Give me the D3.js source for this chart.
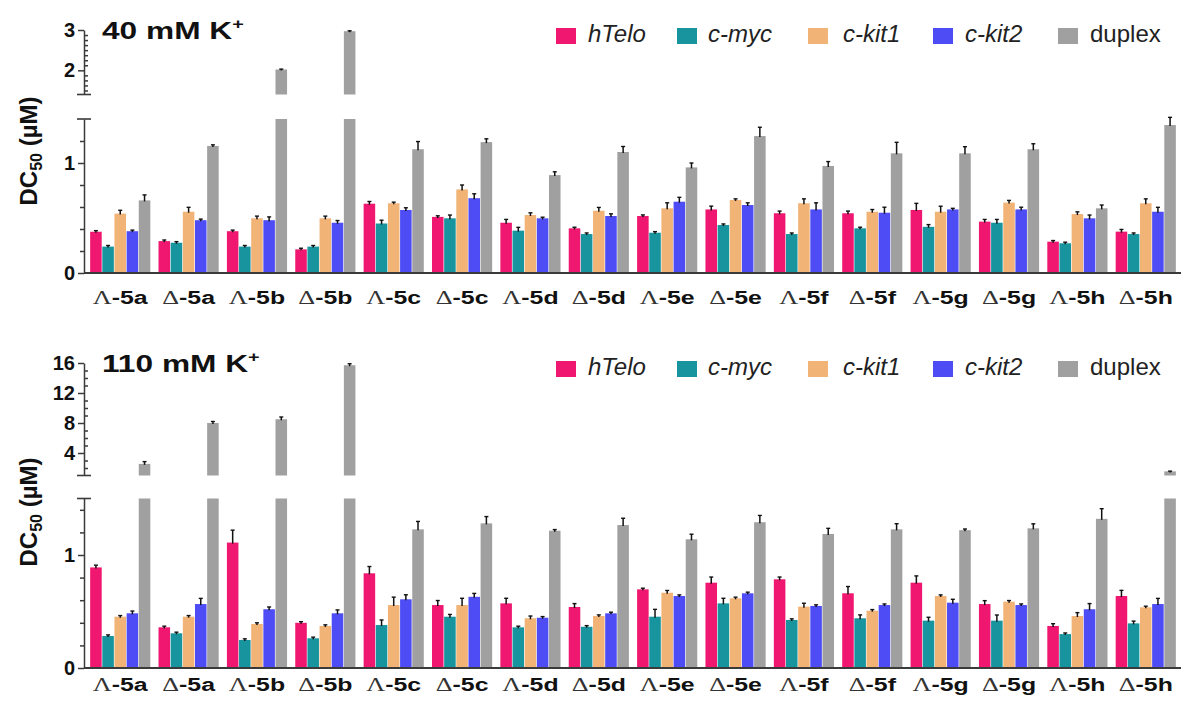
<!DOCTYPE html>
<html>
<head>
<meta charset="utf-8">
<script src="https://cdn.jsdelivr.net/npm/d3@7"></script>
<style>
  body { margin: 0; background: #fff; }
  svg { display: block; font-family: Arial, 'Liberation Sans', sans-serif; }
</style>
</head>
<body>
<svg id="chart" width="1181" height="704"></svg>
<script>
/* Data */
const labels = ['Λ-5a', 'Δ-5a', 'Λ-5b', 'Δ-5b', 'Λ-5c', 'Δ-5c', 'Λ-5d', 'Δ-5d',
  'Λ-5e', 'Δ-5e', 'Λ-5f', 'Δ-5f', 'Λ-5g', 'Δ-5g', 'Λ-5h', 'Δ-5h']
const seriesNames = ['hTelo', 'c-myc', 'c-kit1', 'c-kit2', 'duplex']
const colors = ['#EF1770', '#17949E', '#F2B377', '#4E4CF4', '#A0A0A0']

// 40 mM K+
const hTelo40 = [0.375, 0.29, 0.38, 0.215, 0.63, 0.51, 0.457, 0.406, 0.518, 0.578, 0.543, 0.543, 0.573, 0.467, 0.285, 0.376]
const cmyc40 = [0.24, 0.275, 0.24, 0.24, 0.45, 0.497, 0.385, 0.354, 0.366, 0.436, 0.354, 0.406, 0.42, 0.457, 0.27, 0.354]
const ckit1_40 = [0.54, 0.557, 0.497, 0.497, 0.634, 0.76, 0.527, 0.566, 0.588, 0.664, 0.634, 0.557, 0.557, 0.64, 0.536, 0.634]
const ckit2_40 = [0.38, 0.48, 0.48, 0.457, 0.573, 0.68, 0.497, 0.518, 0.648, 0.618, 0.578, 0.548, 0.578, 0.578, 0.497, 0.557]
const duplex40 = [0.66, 1.155, 2.02, 2.97, 1.125, 1.19, 0.89, 1.1, 0.96, 1.245, 0.973, 1.088, 1.088, 1.125, 0.588, 1.345]
const hTelo40err = [0.01, 0.01, 0.01, 0.01, 0.02, 0.01, 0.03, 0.01, 0.01, 0.03, 0.02, 0.02, 0.06, 0.02, 0.01, 0.02]
const cmyc40err = [0.01, 0.01, 0.01, 0.01, 0.03, 0.03, 0.03, 0.01, 0.01, 0.01, 0.01, 0.01, 0.02, 0.03, 0.01, 0.01]
const ckit1_40err = [0.03, 0.04, 0.02, 0.02, 0.01, 0.04, 0.02, 0.03, 0.05, 0.01, 0.04, 0.02, 0.05, 0.02, 0.02, 0.04]
const ckit2_40err = [0.01, 0.01, 0.03, 0.02, 0.02, 0.04, 0.01, 0.02, 0.04, 0.02, 0.06, 0.05, 0.01, 0.02, 0.03, 0.04]
const duplex40err = [0.05, 0.01, 0.01, 0.01, 0.07, 0.03, 0.03, 0.05, 0.04, 0.08, 0.04, 0.1, 0.06, 0.05, 0.03, 0.07]

// 110 mM K+
const hTelo110 = [0.89, 0.36, 1.11, 0.4, 0.838, 0.557, 0.572, 0.54, 0.696, 0.755, 0.785, 0.661, 0.755, 0.566, 0.372, 0.637]
const cmyc110 = [0.283, 0.307, 0.248, 0.263, 0.38, 0.454, 0.36, 0.365, 0.454, 0.572, 0.425, 0.44, 0.419, 0.419, 0.3, 0.395]
const ckit1_110 = [0.454, 0.454, 0.39, 0.372, 0.557, 0.557, 0.44, 0.46, 0.666, 0.617, 0.543, 0.507, 0.637, 0.587, 0.46, 0.537]
const ckit2_110 = [0.484, 0.566, 0.52, 0.484, 0.608, 0.63, 0.445, 0.484, 0.637, 0.661, 0.549, 0.557, 0.578, 0.557, 0.52, 0.566]
const duplex110 = [2.55, 8.0, 8.5, 15.7, 1.227, 1.28, 1.215, 1.265, 1.139, 1.29, 1.186, 1.227, 1.22, 1.236, 1.32, 1.55]
const hTelo110err = [0.02, 0.01, 0.11, 0.01, 0.06, 0.04, 0.045, 0.03, 0.01, 0.05, 0.02, 0.06, 0.06, 0.03, 0.02, 0.05]
const cmyc110err = [0.01, 0.01, 0.01, 0.01, 0.045, 0.02, 0.01, 0.01, 0.065, 0.045, 0.01, 0.03, 0.03, 0.05, 0.01, 0.02]
const ckit1_110err = [0.01, 0.01, 0.01, 0.01, 0.07, 0.06, 0.02, 0.01, 0.02, 0.01, 0.03, 0.01, 0.01, 0.01, 0.03, 0.01]
const ckit2_110err = [0.02, 0.05, 0.02, 0.03, 0.04, 0.03, 0.01, 0.01, 0.01, 0.01, 0.01, 0.01, 0.03, 0.01, 0.05, 0.05]
const duplex110err = [0.3, 0.2, 0.3, 0.2, 0.07, 0.06, 0.01, 0.06, 0.045, 0.06, 0.05, 0.05, 0.01, 0.04, 0.09, 0.03]

// axis ticks
const lowMajor = [0, 1]
const lowMinor40 = [0.2, 0.4, 0.6, 0.8, 1.2]
const highMajor40 = [2, 3]
const highMinor40 = [1.5, 1.625, 1.75, 1.875, 2.125, 2.25, 2.375, 2.5, 2.625, 2.75, 2.875]
const lowMinor110 = [0.2, 0.4, 0.6, 0.8, 1.2, 1.4]
const highMajor110 = [4, 8, 12, 16]
const highMinor110 = [2, 3, 5, 6, 7, 9, 10, 11, 13, 14, 15]

const svg = d3.select('#chart')
const axisX = 84
const axisColor = '#3a3a3a'

/* Shared x scales */
const x0 = d3.scaleBand().domain(labels).range([84, 1182]).paddingInner(0.12).paddingOuter(0.09)
const x1 = d3.scaleBand().domain(seriesNames).range([0, x0.bandwidth()]).paddingInner(0.05)
const color = d3.scaleOrdinal().domain(seriesNames).range(colors)

function drawPanel(cfg) {
  const g = svg.append('g')
  const yLow = d3.scaleLinear().domain(cfg.lowDomain).range(cfg.lowRange)
  const yHigh = d3.scaleLinear().domain(cfg.highDomain).range(cfg.highRange)
  const lowMax = cfg.lowDomain[1]
  const highMin = cfg.highDomain[0]

  /* Bars */
  cfg.values.forEach((vals, s) => {
    const name = seriesNames[s]
    vals.forEach((v, i) => {
      const bx = x0(labels[i]) + x1(name)
      const bw = x1.bandwidth()
      g.append('rect')
        .attr('x', bx).attr('width', bw)
        .attr('y', yLow(Math.min(v, lowMax)))
        .attr('height', yLow(0) - yLow(Math.min(v, lowMax)))
        .attr('fill', color(name))
      if (v > highMin && v > lowMax) {
        g.append('rect')
          .attr('x', bx).attr('width', bw)
          .attr('y', yHigh(v))
          .attr('height', yHigh(highMin) - yHigh(v))
          .attr('fill', color(name))
      }
      /* error bars */
      const e = cfg.errors[s][i]
      const y = v > lowMax ? yHigh : yLow
      const cx = bx + bw / 2
      g.append('line')
        .attr('x1', cx).attr('x2', cx)
        .attr('y1', y(v) + 1).attr('y2', y(v + e))
        .attr('stroke', '#111').attr('stroke-width', 1.5)
      g.append('line')
        .attr('x1', cx - 2).attr('x2', cx + 2)
        .attr('y1', y(v + e)).attr('y2', y(v + e))
        .attr('stroke', '#111').attr('stroke-width', 1.4)
    })
  })

  /* y axis, lower segment */
  const lowAxis = g.append('g')
    .attr('transform', `translate(${axisX},0)`)
    .call(d3.axisLeft(yLow).tickValues(lowMajor).tickFormat(d3.format('d'))
      .tickSize(6).tickSizeOuter(0).tickPadding(3))
  g.append('g')
    .attr('transform', `translate(${axisX},0)`)
    .call(d3.axisLeft(yLow).tickValues(cfg.lowMinor).tickSize(4).tickFormat(''))
    .call((a) => a.select('.domain').remove())

  /* y axis, upper segment */
  const highAxis = g.append('g')
    .attr('transform', `translate(${axisX},0)`)
    .call(d3.axisLeft(yHigh).tickValues(cfg.highMajor).tickFormat(d3.format('d'))
      .tickSize(6).tickSizeOuter(0).tickPadding(3))
  g.append('g')
    .attr('transform', `translate(${axisX},0)`)
    .call(d3.axisRight(yHigh).tickValues(cfg.highMinor).tickSize(4).tickFormat(''))
    .call((a) => a.select('.domain').remove())

  ;[lowAxis, highAxis].forEach((a) => {
    a.selectAll('text')
      .attr('font-size', 20).attr('font-weight', 'bold')
      .attr('font-family', 'Arial, Liberation Sans, sans-serif')
      .attr('fill', '#111')
  })
  g.selectAll('.domain, .tick line').attr('stroke', axisColor).attr('stroke-width', 1.5)

  /* break caps */
  ;[yLow(lowMax), yHigh(highMin)].forEach((yy) => {
    g.append('line')
      .attr('x1', axisX - 7).attr('x2', axisX + 7)
      .attr('y1', yy).attr('y2', yy)
      .attr('stroke', axisColor).attr('stroke-width', 1.6)
  })

  /* x axis */
  g.append('line')
    .attr('x1', axisX).attr('x2', 1181)
    .attr('y1', yLow(0)).attr('y2', yLow(0))
    .attr('stroke', axisColor).attr('stroke-width', 2)

  labels.forEach((lab) => {
    const t = g.append('text')
      .attr('transform', `translate(${x0(lab) + x0.bandwidth() / 2},${cfg.labelY}) scale(1.38,1)`)
      .attr('text-anchor', 'middle')
      .attr('fill', '#111')
    t.append('tspan')
      .attr('font-family', "'Liberation Serif', 'Times New Roman', serif")
      .attr('font-size', 19)
      .attr('fill', '#333')
      .text(lab.slice(0, 1))
    t.append('tspan')
      .attr('font-weight', 'bold')
      .attr('font-size', 18)
      .text(lab.slice(1))
  })

  /* y label */
  const yl = g.append('text')
    .attr('transform', `translate(37,${cfg.yLabelY}) rotate(-90)`)
    .attr('text-anchor', 'middle')
    .attr('font-size', 24).attr('font-weight', 'bold').attr('fill', '#111')
  yl.append('tspan').text('DC')
  yl.append('tspan').attr('font-size', 16).attr('dy', 5).text('50')
  yl.append('tspan').attr('dy', -5).text(' (µM)')

  /* title */
  const tt = g.append('text')
    .attr('transform', `translate(102,${cfg.titleY}) scale(1.32,1)`)
    .attr('font-size', 24).attr('font-weight', 'bold').attr('fill', '#111')
  tt.append('tspan').text(cfg.title)
  tt.append('tspan').attr('font-size', 15).attr('dy', -10).text('+')

  /* legend */
  const legX = [556, 677, 808, 933, 1058]
  const textX = [588, 708, 843, 965, 1090]
  seriesNames.forEach((name, s) => {
    g.append('rect')
      .attr('x', legX[s]).attr('y', cfg.legendY - 14)
      .attr('width', 20).attr('height', 16)
      .attr('fill', color(name))
    g.append('text')
      .attr('x', textX[s]).attr('y', cfg.legendY)
      .attr('font-size', 24)
      .attr('font-style', name === 'duplex' ? 'normal' : 'italic')
      .attr('fill', '#222')
      .text(name)
  })
}

drawPanel({
  values: [hTelo40, cmyc40, ckit1_40, ckit2_40, duplex40],
  errors: [hTelo40err, cmyc40err, ckit1_40err, ckit2_40err, duplex40err],
  lowDomain: [0, 1.4], lowRange: [273, 119],
  highDomain: [1.4, 3], highRange: [94.5, 30],
  lowMinor: lowMinor40, highMajor: highMajor40, highMinor: highMinor40,
  labelY: 304, yLabelY: 151, titleY: 39, legendY: 42,
  title: '40 mM K'
})

drawPanel({
  values: [hTelo110, cmyc110, ckit1_110, ckit2_110, duplex110],
  errors: [hTelo110err, cmyc110err, ckit1_110err, ckit2_110err, duplex110err],
  lowDomain: [0, 1.5], lowRange: [668, 498.5],
  highDomain: [1, 16], highRange: [475.5, 363],
  lowMinor: lowMinor110, highMajor: highMajor110, highMinor: highMinor110,
  labelY: 691, yLabelY: 512, titleY: 372, legendY: 375,
  title: '110 mM K'
})
</script>
</body>
</html>
